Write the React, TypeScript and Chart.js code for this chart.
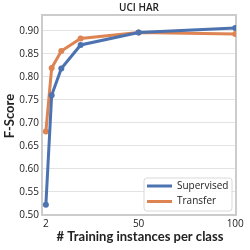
import React, { useEffect, useRef } from "react";
import { Chart, registerables } from "chart.js";

Chart.register(...registerables);

const instances = [2, 5, 10, 20, 50, 100];
const supervised = [0.522, 0.760, 0.818, 0.869, 0.896, 0.906];
const transfer = [0.681, 0.819, 0.856, 0.883, 0.896, 0.893];
const xTickValues = [2, 50, 100];
const seriesNames = ["Supervised", "Transfer"];
const seriesColors = ["#4c72b0", "#dd8452"];
const chartTitle = "UCI HAR";
const xTitle = "# Training instances per class";
const yTitle = "F-Score";

const FONT = "'Open Sans', 'DejaVu Sans', sans-serif";
const TITLE_FONT = "Lato, 'Open Sans', sans-serif";

const decorPlugin = {
  id: "decor",
  beforeDatasetsDraw(chart: any) {
    const { ctx, chartArea } = chart;
    ctx.save();
    ctx.strokeStyle = "#cccccc";
    ctx.lineWidth = 2;
    ctx.strokeRect(chartArea.left, chartArea.top, chartArea.right - chartArea.left, chartArea.bottom - chartArea.top);
    ctx.restore();
  },
  afterDraw(chart: any) {
    const { ctx, chartArea } = chart;
    const cx = (chartArea.left + chartArea.right) / 2;
    const cy = (chartArea.top + chartArea.bottom) / 2;
    ctx.save();
    ctx.fillStyle = "#222222";
    ctx.textAlign = "center";
    ctx.textBaseline = "middle";
    ctx.font = `600 10px ${FONT}`;
    ctx.fillText(chartTitle, cx, 8.5);
    ctx.font = `bold 13px ${TITLE_FONT}`;
    ctx.fillText(xTitle, cx + 1, 237);
    ctx.save();
    ctx.translate(10, cy + 1);
    ctx.rotate(-Math.PI / 2);
    ctx.fillText(yTitle, 0, 0);
    ctx.restore();

    // legend
    const w = 88, h = 33;
    const x0 = chartArea.right - 4 - w;
    const y0 = chartArea.bottom - 4 - h;
    ctx.beginPath();
    const r = 3;
    ctx.moveTo(x0 + r, y0);
    ctx.arcTo(x0 + w, y0, x0 + w, y0 + h, r);
    ctx.arcTo(x0 + w, y0 + h, x0, y0 + h, r);
    ctx.arcTo(x0, y0 + h, x0, y0, r);
    ctx.arcTo(x0, y0, x0 + w, y0, r);
    ctx.closePath();
    ctx.fillStyle = "rgba(255,255,255,0.85)";
    ctx.fill();
    ctx.strokeStyle = "#d9d9d9";
    ctx.lineWidth = 1;
    ctx.stroke();
    chart.data.datasets.forEach((ds: any, i: number) => {
      const y = y0 + 8 + i * 15.5;
      ctx.strokeStyle = ds.borderColor;
      ctx.lineWidth = 3;
      ctx.beginPath();
      ctx.moveTo(x0 + 3, y);
      ctx.lineTo(x0 + 28, y);
      ctx.stroke();
      ctx.fillStyle = "#222222";
      ctx.textAlign = "left";
      ctx.font = `10px ${FONT}`;
      ctx.fillText(ds.label, x0 + 33, y);
    });
    ctx.restore();
  },
};

export default function App() {
  const ref = useRef<HTMLCanvasElement>(null);
  useEffect(() => {
    if (!ref.current) return;
    const chart = new Chart(ref.current, {
      type: "line",
      data: {
        datasets: [supervised, transfer].map((vals, i) => ({
          label: seriesNames[i],
          data: instances.map((x, j) => ({ x, y: vals[j] })),
          borderColor: seriesColors[i],
          backgroundColor: seriesColors[i],
          borderWidth: 3,
          pointRadius: 3,
          pointBorderWidth: 0,
          tension: 0,
        })),
      },
      options: {
        responsive: false,
        animation: false,
        layout: { padding: { top: 15, right: 14, left: 0, bottom: 0 } },
        plugins: { legend: { display: false }, title: { display: false }, tooltip: { enabled: false } },
        scales: {
          x: {
            type: "linear",
            min: 0,
            max: 100.4,
            afterBuildTicks: (s: any) => {
              s.ticks = xTickValues.map((v) => ({ value: v }));
            },
            afterFit: (s: any) => {
              s.height = 35;
            },
            grid: { display: false, drawTicks: false },
            border: { display: false },
            ticks: {
              padding: 3,
              color: "#222222",
              font: { family: FONT, size: 10 },
              maxRotation: 0,
              autoSkip: false,
              callback: (v: any) => String(v),
            },
          },
          y: {
            type: "linear",
            min: 0.5,
            max: 0.934,
            afterBuildTicks: (s: any) => {
              const t = [];
              for (let v = 0.5; v <= 0.9001; v += 0.05) t.push({ value: Math.round(v * 100) / 100 });
              s.ticks = t;
            },
            afterFit: (s: any) => {
              s.width = 42;
            },
            grid: { color: "#e3e3e3", lineWidth: 1, drawTicks: false },
            border: { display: false },
            ticks: {
              padding: 3,
              color: "#222222",
              font: { family: FONT, size: 10 },
              callback: (v: any) => Number(v).toFixed(2),
            },
          },
        },
      },
      plugins: [decorPlugin],
    });
    return () => chart.destroy();
  }, []);
  return (
    <div style={{ position: "fixed", left: 0, top: 0, width: 250, height: 250, background: "#fff" }}>
      <canvas ref={ref} width={250} height={250} />
    </div>
  );
}
